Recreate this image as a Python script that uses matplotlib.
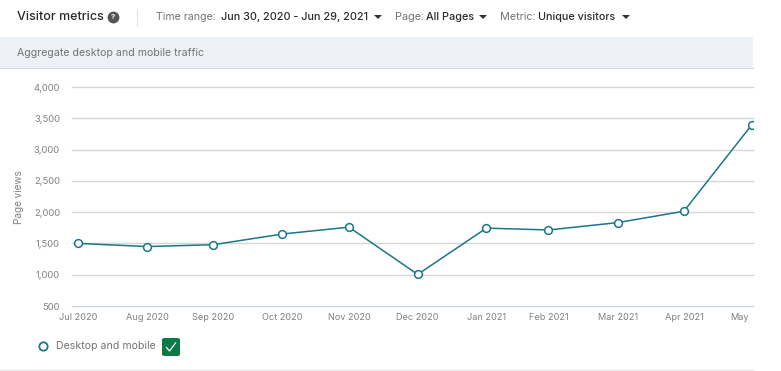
import matplotlib
matplotlib.use('Agg')
import matplotlib.pyplot as plt
from matplotlib.patches import Rectangle, FancyBboxPatch, Polygon
from matplotlib.transforms import ScaledTranslation

W, H = 781, 371

months = ['Jul 2020', 'Aug 2020', 'Sep 2020', 'Oct 2020', 'Nov 2020', 'Dec 2020',
          'Jan 2021', 'Feb 2021', 'Mar 2021', 'Apr 2021', 'May']
# the months are not quite evenly spaced in the picture
month_pos = [0, 1.03, 2.01, 3.03, 4.02, 5.04, 6.06, 6.98, 8.01, 8.99, 10]
visitors = [1500, 1450, 1480, 1650, 1760, 1005, 1745, 1715, 1833, 2015, 3400]
y_ticks = [500, 1000, 1500, 2000, 2500, 3000, 3500, 4000]

plt.rcParams['font.family'] = ['Inter', 'DejaVu Sans']

TEAL = '#1a7787'
GREY = '#737373'
DARK = '#2b2b2b'


# pixel position -> figure fraction
def fx(x):
    return x / W


def fy(y):
    return 1 - y / H


def label(x, y, s, color=GREY, size=7.6, weight='normal', ha='left'):
    fig.text(fx(x), fy(y), s, color=color, fontsize=size, fontweight=weight, ha=ha, va='center')


def caret(x, y):
    fig.add_artist(Polygon([(fx(x), fy(y - 2)), (fx(x + 8), fy(y - 2)), (fx(x + 4), fy(y + 2))],
                           closed=True, color='#333333', lw=0, transform=fig.transFigure))


fig = plt.figure(figsize=(W / 100, H / 100), dpi=100, facecolor='white')

# grey banner behind the subtitle
fig.add_artist(Rectangle((0, fy(68)), fx(753), (68 - 37) / H, facecolor='#edf1f5', edgecolor='none',
                         transform=fig.transFigure))
fig.add_artist(plt.Line2D([0, fx(753)], [fy(68), fy(68)], color='#d5dbe0', lw=0.8))
fig.add_artist(plt.Line2D([0, fx(753)], [fy(37), fy(37)], color='#eceff2', lw=0.8))
fig.add_artist(plt.Line2D([fx(136.5), fx(136.5)], [fy(9), fy(26)], color='#e3e3e3', lw=0.8))
fig.add_artist(plt.Line2D([0, fx(753)], [fy(369.5), fy(369.5)], color='#e6e6e6', lw=1))

# header row
label(17, 17, 'Visitor metrics', color=DARK, size=9, weight='medium')
fig.add_artist(plt.Line2D([fx(112.5)], [fy(17)], marker='o', ms=7.5, color='#555555', lw=0))
label(112.5, 17, '?', color='white', size=5.5, weight='bold', ha='center')
label(156, 17, 'Time range:', size=7.6)
label(221, 17, 'Jun 30, 2020 - Jun 29, 2021', color=DARK, size=7.8, weight='medium')
caret(374, 17)
label(395, 17, 'Page:', size=7.8)
label(426, 17, 'All Pages', color=DARK, size=7.8, weight='medium')
caret(479, 17)
label(500, 17, 'Metric:', size=7.8)
label(538, 17, 'Unique visitors', color=DARK, size=7.8, weight='medium')
caret(622, 17)
label(17, 53, 'Aggregate desktop and mobile traffic', size=7.6)

# main chart
ax = fig.add_axes([fx(72), fy(306), (753 - 72) / W, (306 - 87) / H])
ax.plot(month_pos, visitors, color=TEAL, lw=1.1, marker='o', ms=5.6,
        mfc='white', mec=TEAL, mew=1.1, zorder=3)
ax.set_xlim(-6 / 67.4, 10 + 1 / 67.4)
ax.set_ylim(500, 4000)
ax.set_yticks(y_ticks)
ax.set_yticklabels([f'{v:,}' for v in y_ticks], color='#808080', fontsize=6.8)
ax.set_xticks(month_pos)
ax.set_xticklabels(months, color='#808080', fontsize=6.6)
ax.tick_params(length=0, axis='y', pad=8.6)
ax.tick_params(length=0, axis='x', pad=5)
ax.grid(axis='y', color='#d6d6d6', lw=1)
# top and bottom lines lie on the axes edge, keep them whole
for line in ax.get_ygridlines():
    line.set_clip_on(False)
ax.get_ygridlines()[0].set_color('#ccd5dd')
ax.set_axisbelow(True)
for side in ax.spines.values():
    side.set_visible(False)

# last label sits left of its tick, it would run off the plot otherwise
last = ax.get_xticklabels()[-1]
last.set_ha('right')
last.set_transform(last.get_transform() + ScaledTranslation(-2 / 72, 0, fig.dpi_scale_trans))

fig.text(fx(18.5), fy(197), 'Page views', color='#808080', fontsize=7.2, rotation=90, ha='center', va='center')

# legend under the chart
fig.add_artist(plt.Line2D([fx(42.5)], [fy(345.5)], marker='o', ms=6, mfc='white', mec=TEAL, mew=1.3, lw=0))
label(56, 346, 'Desktop and mobile', size=7.6)
fig.add_artist(FancyBboxPatch((fx(162), fy(356)), 18 / W, 18 / H, boxstyle='round,pad=0,rounding_size=0.004',
                              facecolor='#0b7a45', edgecolor='none', transform=fig.transFigure))
fig.add_artist(plt.Line2D([fx(166.5), fx(169.5), fx(175.5)], [fy(347.5), fy(351), fy(343)], color='white', lw=0.9))

fig.savefig('out.png', dpi=100)
